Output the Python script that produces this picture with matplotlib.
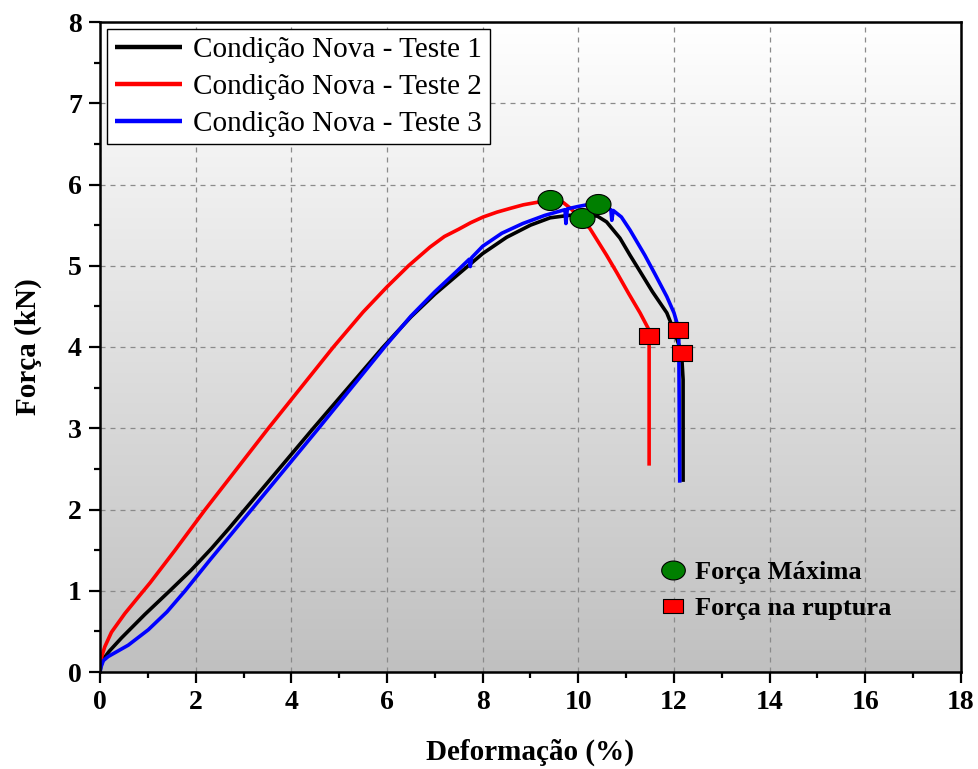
import numpy as np
import matplotlib
matplotlib.use("Agg")
import matplotlib.pyplot as plt
from matplotlib.path import Path
from matplotlib.lines import Line2D
from matplotlib.colors import LinearSegmentedColormap

# ---------------- data ----------------
t1_x = [0, 0.02, 0.07, 0.2, 0.45, 0.94, 1.46, 1.9, 2.33, 2.7, 3.0, 4.46, 5.92, 6.5, 7.0,
        7.5, 8.0, 8.5, 9.0, 9.41, 9.8, 10.1, 10.4, 10.59, 10.87, 11.08, 11.29, 11.55, 11.85,
        12.0, 12.1, 12.16, 12.19, 12.19]
t1_y = [0, 0.08, 0.16, 0.26, 0.42, 0.71, 1.0, 1.25, 1.52, 1.77, 1.98, 3.0, 4.0, 4.37, 4.65,
        4.9, 5.15, 5.35, 5.5, 5.59, 5.62, 5.63, 5.61, 5.54, 5.34, 5.13, 4.93, 4.68, 4.42,
        4.2, 4.03, 3.9, 3.6, 2.34]

t2_x = [0, 0.01, 0.04, 0.1, 0.24, 0.52, 0.77, 1.05, 1.57, 2.2, 3.52, 4.88, 5.5, 6.0, 6.45,
        6.9, 7.2, 7.5, 7.75, 8.01, 8.3, 8.6, 8.85, 9.13, 9.4, 9.55, 9.68, 9.85, 10.0, 10.24,
        10.59, 10.81, 11.05, 11.29, 11.46, 11.48, 11.48]
t2_y = [0, 0.1, 0.2, 0.31, 0.49, 0.72, 0.9, 1.1, 1.5, 2.0, 3.0, 4.0, 4.43, 4.74, 5.0,
        5.23, 5.36, 5.45, 5.53, 5.6, 5.66, 5.71, 5.75, 5.78, 5.8, 5.8, 5.78, 5.7, 5.6, 5.46,
        5.13, 4.91, 4.66, 4.42, 4.23, 4.14, 2.54]

t3_x = [0, 0.02, 0.07, 0.17, 0.59, 1.01, 1.4, 1.78, 2.3, 3.17, 4.57, 5.95, 6.5, 7.0, 7.4,
        7.72, 7.74, 7.77, 8.0, 8.4, 8.84, 9.3, 9.72, 9.74, 9.77, 10.0, 10.18, 10.45, 10.68,
        10.70, 10.73, 10.9, 11.08, 11.39, 11.6, 11.85, 12.0, 12.06, 12.1, 12.12]
t3_y = [0, 0.06, 0.14, 0.19, 0.33, 0.52, 0.74, 1.0, 1.38, 2.0, 3.0, 4.0, 4.38, 4.68, 4.9,
        5.08, 4.99, 5.1, 5.24, 5.4, 5.52, 5.62, 5.69, 5.52, 5.7, 5.73, 5.75, 5.74, 5.69,
        5.56, 5.68, 5.6, 5.44, 5.13, 4.9, 4.62, 4.42, 4.3, 4.1, 2.33]

max_x = [9.41, 10.08, 10.41]
max_y = [5.81, 5.59, 5.76]
rup_x = [11.48, 12.08, 12.17]
rup_y = [4.14, 4.21, 3.93]

series_labels = ["Condição Nova - Teste 1", "Condição Nova - Teste 2", "Condição Nova - Teste 3"]
marker_labels = ["Força Máxima", "Força na ruptura"]
x_ticks = [0, 2, 4, 6, 8, 10, 12, 14, 16, 18]
y_ticks = [0, 1, 2, 3, 4, 5, 6, 7, 8]

# ---------------- style ----------------
plt.rcParams['font.family'] = ['Liberation Serif', 'DejaVu Serif']

fig = plt.figure(figsize=(9.79, 7.69), dpi=100)
ax = fig.add_axes([100/979, 97/769, 861/979, 650/769])

# gradient background
grad = np.linspace(0, 1, 256).reshape(-1, 1)
cmap = LinearSegmentedColormap.from_list("bg", ["#c0c0c0", "#ffffff"])
ax.imshow(grad, extent=[0, 18, 0, 8], origin='lower', aspect='auto', cmap=cmap, zorder=0)

ax.set_xlim(0, 18)
ax.set_ylim(0, 8)

ax.grid(True, which='major', color='#8a8a8a', linestyle=(0, (4, 4)), linewidth=0.9, zorder=1)

lw = 2.6
kw = dict(lw=lw, zorder=3, solid_joinstyle='round', solid_capstyle='butt')
ax.plot(t1_x, t1_y, color='black', label=series_labels[0], **kw)
ax.plot(t2_x, t2_y, color='#ff0000', label=series_labels[1], **kw)
ax.plot(t3_x, t3_y, color='#0000ff', label=series_labels[2], **kw)

# custom markers
th = np.linspace(0, 2*np.pi, 60)
ell = Path(np.column_stack([1.25*np.cos(th), np.sin(th)]), closed=True)
rect = Path([[-1.33, -1], [1.33, -1], [1.33, 1], [-1.33, 1], [-1.33, -1]], closed=True)

ax.plot(max_x, max_y, linestyle='none', marker=ell, markersize=18, markerfacecolor='#007f00',
        markeredgecolor='black', markeredgewidth=0.8, zorder=5)
ax.plot(rup_x, rup_y, linestyle='none', marker=rect, markersize=15, markerfacecolor='#ff0000',
        markeredgecolor='black', markeredgewidth=0.8, zorder=5)

ax.set_xticks(x_ticks)
ax.set_yticks(y_ticks)
ax.set_xticks(np.arange(0, 18.01, 1), minor=True)
ax.set_yticks(np.arange(0, 8.01, 0.5), minor=True)
ax.tick_params(which='major', direction='out', length=8, width=1.6, labelsize=20, pad=5)
ax.tick_params(which='minor', direction='out', length=4.5, width=1.6)
ax.tick_params(top=False, right=False, which='both')
for lab in ax.get_xticklabels() + ax.get_yticklabels():
    lab.set_fontweight('bold')
for sp in ax.spines.values():
    sp.set_linewidth(1.8)
    sp.set_zorder(6)

ax.set_xlabel("Deformação (%)", fontsize=21, fontweight='bold', labelpad=17)
ax.set_ylabel("Força (kN)", fontsize=21, fontweight='bold', labelpad=19)

leg1 = ax.legend(loc='upper left', fontsize=21, frameon=True, fancybox=False, shadow=False,
                 edgecolor='black', framealpha=1.0, borderaxespad=0.25, handlelength=2.3,
                 labelspacing=0.36, borderpad=0.25, handletextpad=0.4)
leg1.get_frame().set_linewidth(1.0)
for l in leg1.get_lines():
    l.set_linewidth(3.2)
ax.add_artist(leg1)

h_max = Line2D([], [], linestyle='none', marker=ell, markersize=17, markerfacecolor='#007f00',
               markeredgecolor='black', markeredgewidth=0.8)
h_rup = Line2D([], [], linestyle='none', marker=rect, markersize=14, markerfacecolor='#ff0000',
               markeredgecolor='black', markeredgewidth=0.8)
leg2 = ax.legend([h_max, h_rup], marker_labels, loc='upper left', bbox_to_anchor=(0.638, 0.188),
                 frameon=False, prop={'size': 19, 'weight': 'bold'}, handlelength=1.0,
                 handletextpad=0.35, labelspacing=0.5, borderaxespad=0)
leg2.set_zorder(7)

fig.savefig("out.png", dpi=100)
